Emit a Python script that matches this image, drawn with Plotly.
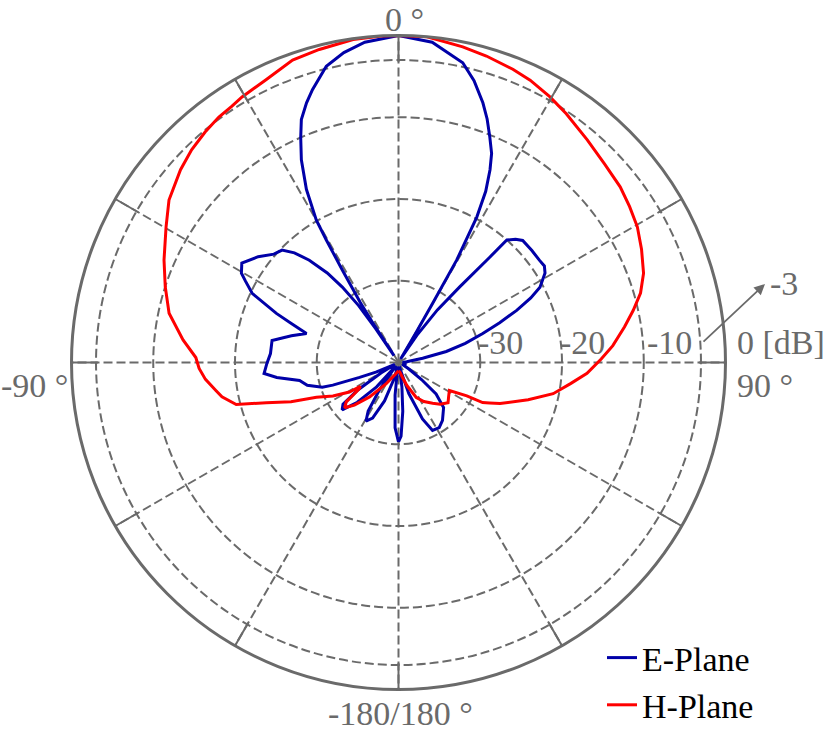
import plotly.graph_objects as go

W, H = 831, 734

# ---- data (angle in degrees, clockwise from top; level in dB) ----
e_theta = [-180, -177, -174, -170, -165, -160, -155, -151, -148, -145, -142, -138, -134, -130, -127,
           -124, -121, -117, -113, -111, -109, -108, -104, -100.3, -97, -94.7, -90.4, -86, -80.1, -76,
           -72.5, -70, -68.1, -64.7, -62, -60.4, -57.6, -53, -49, -46, -43.5, -41.1, -38.5, -36.7, -35,
           -34, -33.5, -33, -32.5, -31.3, -30.5, -30, -28, -25.6, -23.5, -21.8, -19.5, -17.5, -13.7, -10,
           -6, 0, 6, 12.1, 15, 18, 20, 22, 24, 25.4, 27, 28.3, 29.6, 30, 30.5, 31,
           34, 36.5, 39, 40.9, 41.5, 43.5, 45.5, 50, 54.1, 56.5, 58.6, 62, 64, 66.2, 68.5,
           71, 74, 77, 80, 85, 90, 95, 100, 108, 115, 122, 126.5, 130, 135, 142.8,
           148, 153.4, 157, 161.6, 165, 168, 172, 175, 178, 180]
e_db = [-30.3, -32, -36, -39.5, -38, -35, -32.5, -31.8, -33, -36, -39.5, -36, -33, -31, -31.5,
        -34, -37.5, -39.5, -37, -34.9, -31.5, -30.2, -28.5, -27.7, -25, -23.5, -23.9, -24.3, -24.3, -26.5,
        -28.2, -26, -23.9, -20.2, -18.8, -17.9, -17.3, -18.5, -19.8, -20.2, -21.5, -23.4, -26, -28.5, -31.5,
        -35, -39, -34, -31.3, -26.8, -22.6, -19.9, -16, -12.5, -10, -8, -6.3, -5, -2.7, -1.5,
        -0.6, 0, -0.6, -2.5, -4.3, -6.6, -8.3, -10.2, -12, -13.9, -16.5, -19.8, -25.6, -31.6, -36, -39.5,
        -36, -32, -28.1, -23, -20, -19.2, -18.7, -18.7, -18.7, -18.6, -19, -20.4, -22, -24.2, -26.7,
        -29.1, -31.5, -34, -37, -39, -39.5, -39, -39.5, -39, -39.5, -38.5, -36.5, -34, -32.2, -31.1,
        -30.6, -30.7, -32.5, -36, -39, -39.5, -37, -34, -31, -30.3]

h_theta = [-180, -165, -150, -140, -134, -130, -127, -124, -122, -121, -117, -113, -110, -106.9, -104.5,
           -101, -98.7, -95, -91.7, -88.6, -84, -77.9, -72, -66.4, -59.8, -54.7, -48.5, -44.2, -40, -36.2,
           -33, -30.5, -25.1, -19.3, -14.2, -8, -3, 0, 5, 11.5, 16, 21.3, 25, 29.7, 34,
           40.3, 46, 51.6, 56, 60.4, 65, 70, 74, 77.5, 81, 85.5, 89, 93.3, 97, 101.4,
           106, 112, 114, 115.5, 116, 118.8, 124, 129, 135, 140, 147, 153, 160, 165, 172, 180]
h_db = [-39, -38.5, -37, -34.5, -32.5, -31.4, -32, -34.2, -34.5, -33, -31, -29.1, -26, -23.1, -19.5,
        -18, -17.4, -16.3, -15.6, -15.2, -13.5, -11.3, -10, -8.7, -7.1, -5.6, -4.4, -3.7, -3.2, -2.8,
        -2.6, -2.3, -1.8, -0.8, -0.5, -0.1, 0, 0, 0, -0.6, -1, -1.5, -1.9, -2.6, -3.3,
        -4.3, -5, -5.4, -5.9, -6.4, -7.2, -8.1, -9.2, -10.6, -12, -13.7, -15.2, -16.9, -18.8, -20.7,
        -23.5, -26.6, -27.8, -28.6, -30.7, -32.9, -32.6, -32.2, -32.8, -33.5, -34.3, -35.2, -37, -38.1, -38.8, -39]

radial_rings = [-30, -20, -10, -3]
radial_labels = ["-30", "-20", "-10"]
angle_ticks = list(range(0, 360, 30))

GREY = "#6a6a6a"
FONT = "Liberation Serif"
FS = 34

fig = go.Figure()
fig.add_trace(go.Scatterpolar(theta=e_theta, r=e_db, mode="lines", name="E-Plane",
                              line=dict(color="#0000a8", width=3)))
fig.add_trace(go.Scatterpolar(theta=h_theta, r=h_db, mode="lines", name="H-Plane",
                              line=dict(color="#ff0000", width=3)))

cx, cy, R = 398.5, 362.5, 327


def px(x):
    return x / W


def py(y):
    return 1 - y / H


fig.update_layout(
    width=W, height=H,
    margin=dict(l=0, r=0, t=0, b=0),
    paper_bgcolor="white",
    polar=dict(
        domain=dict(x=[px(cx - R), px(cx + R)], y=[py(cy + R), py(cy - R)]),
        bgcolor="white",
        radialaxis=dict(range=[-40, 0], tickvals=radial_rings, showticklabels=False,
                        showline=False, ticks="", gridcolor=GREY, gridwidth=2, griddash="9px,4px"),
        angularaxis=dict(rotation=90, direction="clockwise", tickvals=angle_ticks,
                         showticklabels=False, ticks="inside", ticklen=25, tickwidth=2,
                         tickcolor=GREY, gridcolor=GREY, gridwidth=2, griddash="9px,4px",
                         showline=True, linecolor=GREY, linewidth=3),
    ),
    showlegend=True,
    legend=dict(x=px(602), y=0.0, xanchor="left", yanchor="bottom",
                font=dict(family=FONT, size=FS, color="black"), bgcolor="rgba(0,0,0,0)",
                tracegroupgap=0, borderwidth=0),
    font=dict(family=FONT, size=FS, color=GREY),
)

ann = []


def label(text, x, y, xa="left", ya="middle"):
    ann.append(dict(text=text, x=px(x), y=py(y), xref="paper", yref="paper",
                    xanchor=xa, yanchor=ya, showarrow=False,
                    font=dict(family=FONT, size=FS, color=GREY)))


label("0 °", 404, 20, "center")
label("90 °", 735, 385)
label("-90 °", 70, 385, "right")
label("-180/180 °", 400, 713, "center")
for t, x in zip(radial_labels, [476, 558, 645]):
    label(t, x, 342)
label("0 [dB]", 735, 342)
label("-3", 768, 283)
ann.append(dict(text="", x=px(765), y=py(284), xref="paper", yref="paper",
                ax=702 - 765, ay=343 - 284, axref="pixel", ayref="pixel",
                showarrow=True, arrowhead=2, arrowsize=1.2, arrowwidth=1.8, arrowcolor=GREY))
fig.update_layout(annotations=ann)

fig.write_html("out.html", config={"displayModeBar": False},
               post_script="document.body.style.margin='0';document.body.style.overflow='hidden';")
